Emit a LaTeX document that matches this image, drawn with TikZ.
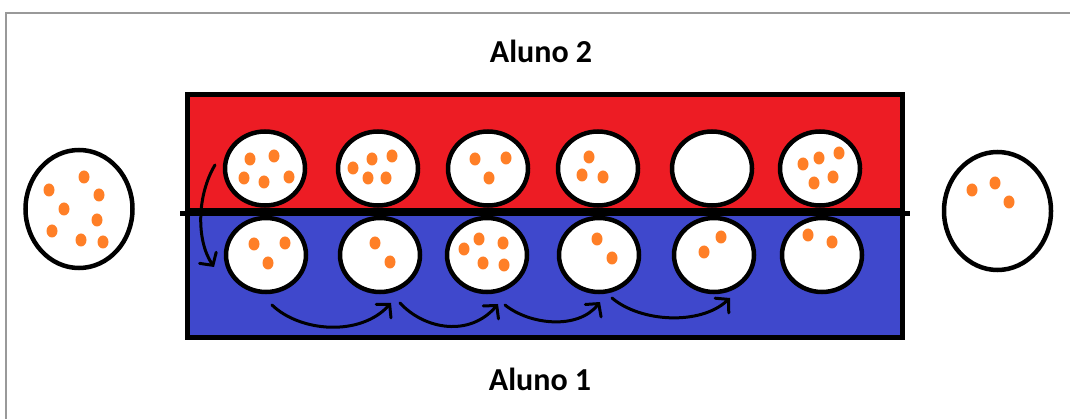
\documentclass[tikz,border=0pt]{standalone}
\usepackage{fontspec}
\setmainfont{Carlito}
\usetikzlibrary{shapes.geometric,arrows.meta}
\definecolor{paintred}{HTML}{ED1C24}
\definecolor{paintblue}{HTML}{3F48CC}
\definecolor{paintorange}{HTML}{FF7F27}
\definecolor{framegray}{HTML}{999999}
\tikzset{
  panel/.style={draw=black, line width=5pt, rectangle, inner sep=0pt, minimum width=715pt},
  cup/.style={draw=black, fill=white, line width=4.5pt, ellipse, inner sep=0pt, minimum width=80pt, minimum height=74pt},
  bigcup/.style={draw=black, fill=white, line width=4.5pt, ellipse, inner sep=0pt, minimum width=107pt, minimum height=118pt},
  label/.style={font=\bfseries\fontsize{32}{32}\selectfont, anchor=base},
  move/.style={line width=3pt, line cap=round, -{Straight Barb[length=9pt,width=20pt,line cap=round]}},
  dot/.style={fill=paintorange}
}
\begin{document}
\begin{tikzpicture}[x=1pt,y=-1pt]
\useasboundingbox (0,0) rectangle (1070,419);
\fill[white] (0,0) rectangle (1070,419);

% outer frame (top and left edges only)
\draw[framegray, line width=2.5pt] (6,419) -- (6,13) -- (1070,13);

% labels
\node[label] (aluno2) at (541,63) {Aluno 2};
\node[label] (aluno1) at (540,390) {Aluno 1};

% the two halves of the board
\node[panel, fill=paintred, minimum height=116.5pt] (upper) at (545,152.75) {};
\node[panel, fill=paintblue, minimum height=126.5pt] (lower) at (545,274.25) {};
\draw[line width=5pt] ([xshift=-5pt]upper.south west) -- ([xshift=5pt]upper.south east);

% pits of the upper row
\foreach \n/\x in {1/265,2/378,3/488,4/598,5/712,6/820}
  \node[cup] (t\n) at (\x,168.5) {};
% pits of the lower row
\foreach \n/\x in {1/266,2/380,3/487,4/599,5/714,6/822}
  \node[cup] (b\n) at (\x,255) {};
% stores at both ends
\node[bigcup] (storeL) at (79,209) {};
\node[bigcup] (storeR) at (997.5,211) {};

% seeds
\foreach \p in {
  (49,190),(84,177),(99,195),(64,209),(97,220),(52,231),(81,240),(103,242),
  (972,190),(995,183),(1009,202),
  (250,159),(274,156),(244,178),(264,182),(289,177),
  (372,159),(392,156),(353,168),(368,178),(386,178),
  (475,159),(506,158),(489,178),
  (589,157),(582,175),(603,177),
  (803,164),(819,158),(839,153),(833,177),(814,183),
  (254,244),(285,243),(268,263),
  (375,243),(390,262),
  (479,239),(503,243),(464,249),(483,263),(504,265),
  (597,239),(612,258),
  (721,237),(704,252),
  (808,235),(832,242)}
  \fill[dot] \p ellipse [x radius=5.5pt, y radius=6.5pt];

% sowing moves
\coordinate (a0) at (215,165);
\coordinate (a1) at (214,267);
\draw[move] (a0) .. controls (197,195) and (196,240) .. (a1);

\coordinate (m0) at (272,305);
\coordinate (m1) at (391,303);
\draw[move] (m0) .. controls (300,332) and (360,337) .. (m1);

\coordinate (m2) at (400,303);
\coordinate (m3) at (498,304);
\draw[move] (m2) .. controls (425,330) and (470,337) .. (m3);

\coordinate (m4) at (505,305);
\coordinate (m5) at (600,302);
\draw[move] (m4) .. controls (530,325) and (578,330) .. (m5);

\coordinate (m6) at (612,298);
\coordinate (m7) at (730,298);
\draw[move] (m6) .. controls (640,322) and (700,326) .. (m7);
\end{tikzpicture}
\end{document}
